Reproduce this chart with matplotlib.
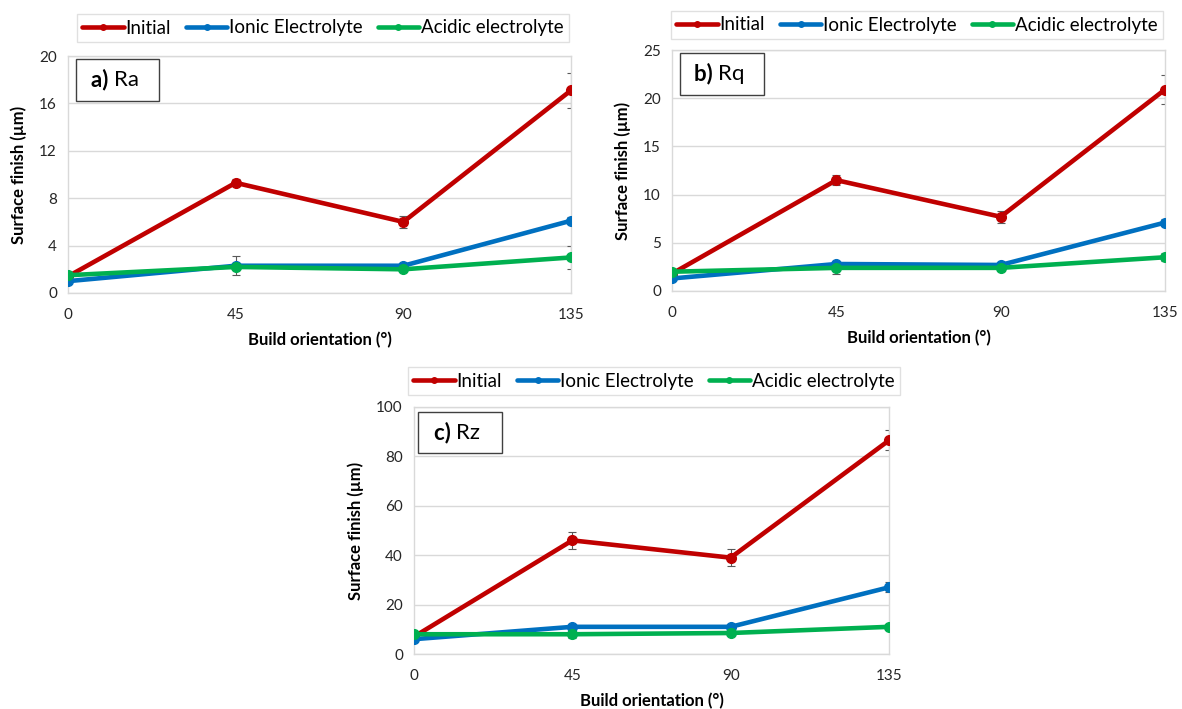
import matplotlib
matplotlib.use("Agg")
import matplotlib.pyplot as plt
from matplotlib.patches import Rectangle

plt.rcParams['font.family'] = ['Lato', 'DejaVu Sans']

orientation = [0, 45, 90, 135]
series_names = ["Initial", "Ionic Electrolyte", "Acidic electrolyte"]
colors = ["#C00000", "#0070C0", "#00B050"]

# Ra
ra_initial = [1.4, 9.3, 6.0, 17.1]
ra_ionic = [1.0, 2.3, 2.3, 6.1]
ra_acidic = [1.5, 2.2, 2.0, 3.0]
ra_initial_err = [0.2, 0.3, 0.5, 1.45]
ra_ionic_err = [0.1, 0.8, 0.2, 0.3]
ra_acidic_err = [0.1, 0.3, 0.2, 1.0]

# Rq
rq_initial = [1.8, 11.5, 7.7, 20.9]
rq_ionic = [1.3, 2.8, 2.7, 7.1]
rq_acidic = [2.0, 2.4, 2.4, 3.5]
rq_initial_err = [0.2, 0.5, 0.6, 1.5]
rq_ionic_err = [0.1, 0.3, 0.2, 0.4]
rq_acidic_err = [0.1, 0.6, 0.3, 0.4]

# Rz
rz_initial = [7, 46, 39, 86.5]
rz_ionic = [6, 11, 11, 27]
rz_acidic = [8, 8, 8.5, 11]
rz_initial_err = [0.5, 3.5, 3.5, 4.0]
rz_ionic_err = [0.5, 1.0, 1.0, 2.0]
rz_acidic_err = [0.5, 1.5, 1.0, 1.0]

panels = [
    dict(rect=(68, 56, 571, 293), ylim=20, yticks=[0, 4, 8, 12, 16, 20],
         data=[(ra_initial, ra_initial_err), (ra_ionic, ra_ionic_err), (ra_acidic, ra_acidic_err)],
         tag="a)", name="Ra", box=(76, 59, 159, 101), leg=(323, 28)),
    dict(rect=(672, 50, 1165, 291), ylim=25, yticks=[0, 5, 10, 15, 20, 25],
         data=[(rq_initial, rq_initial_err), (rq_ionic, rq_ionic_err), (rq_acidic, rq_acidic_err)],
         tag="b)", name="Rq", box=(680, 53, 764, 95), leg=(917, 25)),
    dict(rect=(414, 407, 889, 654), ylim=100, yticks=[0, 20, 40, 60, 80, 100],
         data=[(rz_initial, rz_initial_err), (rz_ionic, rz_ionic_err), (rz_acidic, rz_acidic_err)],
         tag="c)", name="Rz", box=(418, 412, 502, 453), leg=(654, 381)),
]

W, H = 1182, 709
fig = plt.figure(figsize=(W / 100, H / 100), dpi=100)

grid_c = "#D9D9D9"
for p in panels:
    x0, y0, x1, y1 = p["rect"]
    ax = fig.add_axes([x0 / W, 1 - y1 / H, (x1 - x0) / W, (y1 - y0) / H])
    handles = []
    for (vals, errs), c, nm in zip(p["data"], colors, series_names):
        ax.errorbar(orientation, vals, yerr=errs, fmt='none', ecolor="#595959",
                    elinewidth=0.8, capsize=3, capthick=0.8, zorder=2)
        h, = ax.plot(orientation, vals, color=c, lw=3.3, marker='o', ms=7,
                     label=nm, zorder=3, solid_capstyle='round')
        handles.append(h)
    ax.set_xlim(0, 135)
    ax.set_ylim(0, p["ylim"])
    ax.set_xticks(orientation)
    ax.set_yticks(p["yticks"])
    ax.tick_params(length=0, labelsize=11, colors="#262626", pad=8)
    ax.tick_params(axis='x', pad=11)
    ax.grid(axis='y', color=grid_c, lw=1)
    ax.set_axisbelow(True)
    for s in ax.spines.values():
        s.set_color(grid_c)
        s.set_linewidth(1)
    ax.set_xlabel("Build orientation (°)", fontsize=12, fontweight='bold', labelpad=7)
    ax.set_ylabel("Surface finish (µm)", fontsize=12, fontweight='bold', labelpad=9)
    for t in ax.get_xticklabels() + ax.get_yticklabels():
        t.set_color("#262626")

    # legend
    lx, ly = p["leg"]
    leg = fig.legend(handles=handles, loc='center', bbox_to_anchor=(lx / W, 1 - ly / H),
                     ncol=3, fontsize=13.5, frameon=True, fancybox=False,
                     edgecolor="#D9D9D9", handlelength=2.2, handletextpad=0.1,
                     columnspacing=0.8, borderpad=0.3, numpoints=1)
    for lh in leg.get_lines():
        lh.set_markersize(4)
    leg.get_frame().set_linewidth(1)

    # label box
    bx0, by0, bx1, by1 = p["box"]
    fig.patches.append(Rectangle((bx0 / W, 1 - by1 / H), (bx1 - bx0) / W, (by1 - by0) / H,
                                 transform=fig.transFigure, fill=True, facecolor='white',
                                 edgecolor='#404040', lw=1, zorder=5))
    cx = (bx0 + bx1) / 2 / W
    cy = 1 - (by0 + by1) / 2 / H
    fig.text(cx - 0.003, cy, p["tag"] + " ", fontsize=16, fontweight='bold',
             ha='right', va='center', zorder=6)
    fig.text(cx - 0.003, cy, p["name"], fontsize=16, ha='left', va='center', zorder=6)

fig.savefig("out.png", dpi=100)
